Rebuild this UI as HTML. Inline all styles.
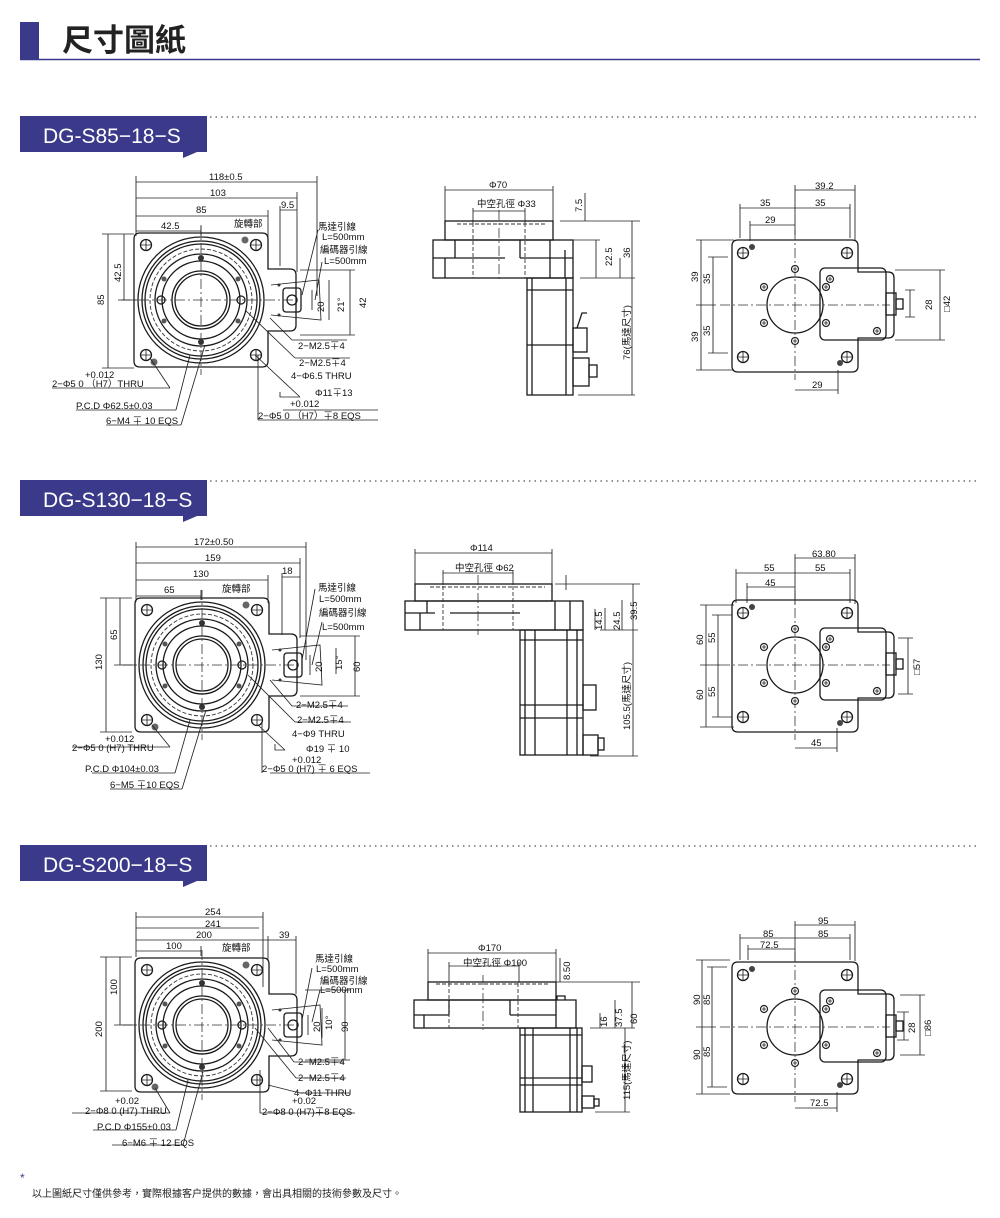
<!DOCTYPE html>
<html><head><meta charset="utf-8">
<style>
html,body{margin:0;padding:0;background:#fff;}
svg{display:block;}
.t{font-family:"Liberation Sans","Noto Sans CJK TC",sans-serif;font-size:9.5px;fill:#111;}
.s{fill:none;stroke:#1a1a1a;stroke-width:1.3;}
.d{fill:none;stroke:#222;stroke-width:0.85;}
.c{fill:none;stroke:#333;stroke-width:0.8;stroke-dasharray:10 3 2 3;}
.h{fill:none;stroke:#333;stroke-width:0.9;stroke-dasharray:4 2;}
</style></head><body>
<svg width="1000" height="1218" viewBox="0 0 1000 1218" xmlns="http://www.w3.org/2000/svg">
<defs>
<g id="hole"><circle r="5.5" class="s"/><path d="M-5.5,0h11M0,-5.5v11" class="d"/></g>
<g id="scr"><circle r="3.5" fill="#fff" stroke="#222" stroke-width="1.2"/><path d="M-2,0h4M0,-2v4" class="d"/></g>
<g id="fv">
<path class="s" d="M-61,-67 h122 q6,0 6,6 v30 h22 q6,0 6,6 v50 q0,6 -6,6 h-22 v30 q0,6 -6,6 h-122 q-6,0 -6,-6 v-122 q0,-6 6,-6z"/>
<circle r="63" class="s" stroke-width="1.8"/><circle r="59" class="s"/><circle r="56" class="s"/>
<circle r="51" class="h"/><circle r="46" class="s"/><circle r="39" class="s"/>
<circle r="29" class="s" stroke-width="1.7"/><circle r="26" class="s"/>
<path class="c" d="M-80,0h175M0,-75v150"/>
<use href="#hole" x="-55" y="-55"/><use href="#hole" x="55" y="-55"/><use href="#hole" x="-55" y="55"/><use href="#hole" x="55" y="55"/>
<circle cx="0" cy="-42" r="3" fill="#333"/><circle cx="0" cy="42" r="3" fill="#333"/>
<circle cx="-37" cy="-21" r="2.5" fill="#555"/><circle cx="37" cy="-21" r="2.5" fill="#555"/>
<circle cx="-37" cy="21" r="2.5" fill="#555"/><circle cx="37" cy="21" r="2.5" fill="#555"/>
<circle cx="-40" cy="0" r="4" class="s"/><circle cx="40" cy="0" r="4" class="s"/>
<circle cx="44" cy="-60" r="3.5" fill="#666"/><circle cx="-47" cy="62" r="3.5" fill="#666"/>
<path class="d" d="M70,-15 L118,-20 L120,20 L70,15"/>
<rect x="82" y="-12" width="18" height="24" rx="3" class="s"/><circle cx="91" cy="0" r="5" class="s"/>
<circle cx="78" cy="-15" r="1.5" fill="#333"/><circle cx="78" cy="15" r="1.5" fill="#333"/>
</g>
<g id="tv">
<path class="s" d="M-57,-65 h114 q6,0 6,6 v26 h30 q6,0 6,6 v54 q0,6 -6,6 h-30 v28 q0,6 -6,6 h-114 q-6,0 -6,-6 v-120 q0,-6 6,-6z"/>
<rect x="25" y="-37" width="66" height="72" rx="5" class="s"/>
<circle r="28" class="s"/>
<path class="c" d="M-75,0h170M0,-75v150"/>
<use href="#hole" x="-52" y="-52"/><use href="#hole" x="52" y="-52"/><use href="#hole" x="-52" y="52"/><use href="#hole" x="52" y="52"/>
<use href="#scr" x="0" y="-36"/><use href="#scr" x="0" y="36"/><use href="#scr" x="-31" y="-18"/><use href="#scr" x="-31" y="18"/><use href="#scr" x="31" y="-18"/><use href="#scr" x="31" y="18"/>
<use href="#scr" x="35" y="-26"/><use href="#scr" x="82" y="26"/>
<circle cx="-43" cy="-58" r="3" fill="#444"/><circle cx="45" cy="58" r="3" fill="#444"/>
<rect x="91" y="-12" width="10" height="22" class="s"/><rect x="101" y="-6" width="7" height="10" class="s"/>
</g>
</defs>

<rect x="20" y="22" width="19" height="37" fill="#3b3a8a"/>
<text x="62" y="51" font-family="Liberation Sans,'Noto Sans CJK TC',sans-serif" font-size="31" fill="#222" font-weight="bold">尺寸圖紙</text>
<line x1="20" y1="59.5" x2="980" y2="59.5" stroke="#3b3a8a" stroke-width="1.5"/>

<g>
<path d="M20,116 h187 v36 h-10 l-14,6 v-6 h-163z" fill="#3b3a8a"/>
<text x="43" y="143" font-family="Liberation Sans,sans-serif" font-size="21" fill="#fff">DG-S85−18−S</text>
<line x1="210" y1="117" x2="980" y2="117" stroke="#555" stroke-width="1.2" stroke-dasharray="1.5 4"/>
<path d="M20,480 h187 v36 h-10 l-14,6 v-6 h-163z" fill="#3b3a8a"/>
<text x="43" y="507" font-family="Liberation Sans,sans-serif" font-size="21" fill="#fff">DG-S130−18−S</text>
<line x1="210" y1="481" x2="980" y2="481" stroke="#555" stroke-width="1.2" stroke-dasharray="1.5 4"/>
<path d="M20,845 h187 v36 h-10 l-14,6 v-6 h-163z" fill="#3b3a8a"/>
<text x="43" y="872" font-family="Liberation Sans,sans-serif" font-size="21" fill="#fff">DG-S200−18−S</text>
<line x1="210" y1="846" x2="980" y2="846" stroke="#555" stroke-width="1.2" stroke-dasharray="1.5 4"/>
</g>

<!-- ===== Section 1 ===== -->
<use href="#fv" x="201" y="300"/>
<g class="d">
<path d="M136,182h181M136,198h161M136,216h132M136,231h65M280,210h17M136,176v60M317,176v120M297,192v80M268,210v28M280,206v60M201,226v10"/>
<path d="M108,234v134M124,234v66M102,234h32M102,368h32M118,300h20"/>
<path d="M312,290v20M329,280v40M350,270v65M300,270h55M300,335h55"/>
<path d="M292,340h55M295,358h55M283,410h95M258,420h120M52,388h118M76,410h100M106,425h75"/>
<path d="M176,410L190,355M170,388L150,358M181,425L205,345M292,340L270,318M295,358L245,310M258,420L258,355M300,397h-20v-5M300,397L255,355M318,230L302,295M322,262L315,300"/>
</g>
<g class="t">
<text x="209" y="180">118±0.5</text><text x="210" y="196">103</text><text x="196" y="213">85</text><text x="281" y="208">9.5</text><text x="161" y="229">42.5</text>
<text x="234" y="227">旋轉部</text>
<text transform="translate(104,305) rotate(-90)">85</text><text transform="translate(121,282) rotate(-90)">42.5</text>
<text x="318" y="230">馬達引線</text><text x="322" y="240">L=500mm</text><text x="320" y="253">編碼器引線</text><text x="324" y="264">L=500mm</text>
<text transform="translate(324,312) rotate(-90)">20</text><text transform="translate(344,312) rotate(-90)">21°</text><text transform="translate(366,308) rotate(-90)">42</text>
<text x="298" y="349">2−M2.5∓4</text><text x="299" y="366">2−M2.5∓4</text><text x="291" y="379">4−Φ6.5 THRU</text>
<text x="315" y="396">Φ11∓13</text><text x="290" y="407">+0.012</text><text x="258" y="419">2−Φ5   0  （H7）∓8 EQS</text>
<text x="85" y="378">+0.012</text><text x="52" y="387">2−Φ5   0 （H7）THRU</text><text x="76" y="409">P.C.D   Φ62.5±0.03</text><text x="106" y="424">6−M4 ∓ 10 EQS</text>
</g>
<g class="s">
<rect x="445" y="221" width="108" height="19"/>
<rect x="433" y="240" width="140" height="38"/>
<path d="M433,258h22v-18M455,258h50M520,258v-18M520,258h53M550,240v38M565,250v28M445,258v20"/>
<rect x="527" y="278" width="46" height="117"/>
<path d="M532,278v117M566,278v117M527,290h46M527,345h46"/>
<rect x="573" y="328" width="14" height="24"/><path d="M577,328l5,-15h5"/>
<rect x="573" y="358" width="16" height="28"/><rect x="589" y="365" width="8" height="12"/>
</g>
<path class="h" d="M457,224h88M473,223v55M525,223v55"/>
<path class="c" d="M499,210v70"/>
<g class="d"><path d="M445,190h108M445,186v35M553,186v35M473,211h52M473,208v15M525,208v15M585,193v28M560,221h80M560,240h40M596,240v38M632,221v174M580,278h55M578,395h57M620,258v20"/></g>
<g class="t">
<text x="489" y="188">Φ70</text><text x="477" y="207">中空孔徑  Φ33</text>
<text transform="translate(582,212) rotate(-90)">7.5</text><text transform="translate(612,266) rotate(-90)">22.5</text>
<text transform="translate(630,258) rotate(-90)">36</text><text transform="translate(630,360) rotate(-90)">76(馬達尺寸)</text>
</g>
<use href="#tv" x="795" y="305"/>
<g class="d"><path d="M795,190h60M795,185v50M855,185v55M740,208h110M740,204v34M850,204v34M750,225h45M750,221v20M795,390h43M838,370v24M701,240v130M713,257v96M696,240h38M708,257h20M708,353h20M696,370h38M696,305h20M910,290v27M940,270v70M895,270h50M895,340h50M905,290h10M905,317h10"/></g>
<g class="t">
<text x="815" y="189">39.2</text><text x="760" y="206">35</text><text x="815" y="206">35</text><text x="765" y="223">29</text><text x="812" y="388">29</text>
<text transform="translate(698,282) rotate(-90)">39</text><text transform="translate(698,342) rotate(-90)">39</text>
<text transform="translate(710,284) rotate(-90)">35</text><text transform="translate(710,336) rotate(-90)">35</text>
<text transform="translate(932,310) rotate(-90)">28</text><text transform="translate(950,312) rotate(-90)">□42</text>
</g>

<!-- ===== Section 2 ===== -->
<use href="#fv" x="202" y="665"/>
<g class="d">
<path d="M136,547h170M136,563h164M136,580h132M136,596h65M282,577h18M136,542v60M306,542v118M300,558v80M268,575v28M282,573v62M201,590v10"/>
<path d="M106,598v134M120,598v67M100,598h32M100,732h32M114,665h22"/>
<path d="M310,655v20M336,648v26M355,636v60M300,636h60M300,696h60"/>
<path d="M292,706h56M295,722h56M270,773h100M72,747h98M92,773h83M110,789h72"/>
<path d="M170,747L152,725M175,773L190,720M182,789L206,710M292,706L270,680M295,722L248,675M262,773L262,722M285,750h-10v-6M285,750L258,725M315,589L302,660M322,622L312,665"/>
</g>
<g class="t">
<text x="194" y="545">172±0.50</text><text x="205" y="561">159</text><text x="193" y="577">130</text><text x="282" y="574">18</text><text x="164" y="593">65</text>
<text x="222" y="592">旋轉部</text>
<text transform="translate(102,670) rotate(-90)">130</text><text transform="translate(117,640) rotate(-90)">65</text>
<text x="318" y="591">馬達引線</text><text x="319" y="602">L=500mm</text><text x="319" y="616">編碼器引線</text><text x="322" y="630">L=500mm</text>
<text transform="translate(322,672) rotate(-90)">20</text><text transform="translate(342,670) rotate(-90)">15°</text><text transform="translate(360,672) rotate(-90)">60</text>
<text x="296" y="708">2−M2.5∓4</text><text x="297" y="723">2−M2.5∓4</text><text x="292" y="737">4−Φ9 THRU</text>
<text x="306" y="752">Φ19 ∓ 10</text><text x="292" y="763">+0.012</text><text x="262" y="772">2−Φ5   0  (H7) ∓ 6 EQS</text>
<text x="105" y="742">+0.012</text><text x="72" y="751">2−Φ5    0  (H7) THRU</text><text x="85" y="772">P.C.D  Φ104±0.03</text><text x="110" y="788">6−M5 ∓10 EQS</text>
</g>
<g class="s">
<rect x="415" y="584" width="137" height="17"/>
<rect x="405" y="601" width="178" height="29"/>
<path d="M405,613h30M427,601v12M450,613h70M555,601v29M570,601v29M420,613v17"/>
<rect x="520" y="630" width="63" height="125"/>
<path d="M525,630v125M535,630v125M567,630v125M577,630v125M520,640h63M520,705h63M520,718h63"/>
<rect x="583" y="685" width="13" height="25"/><rect x="583" y="735" width="15" height="20"/><rect x="598" y="738" width="6" height="12"/>
</g>
<path class="h" d="M430,587h115M443,586v44M513,586v44"/>
<path class="c" d="M478,575v60"/>
<g class="d"><path d="M415,553h137M415,549v35M552,549v35M443,573h70M443,570v15M513,570v15M566,575v15M555,584h85M560,601h15M595,609v21M605,608v22M622,600v30M633,584v172M600,630h38M590,756h48"/></g>
<g class="t">
<text x="470" y="551">Φ114</text><text x="455" y="571">中空孔徑  Φ62</text>
<text transform="translate(602,630) rotate(-90)">14.5</text><text transform="translate(620,630) rotate(-90)">24.5</text>
<text transform="translate(637,620) rotate(-90)">39.5</text><text transform="translate(630,730) rotate(-90)">105.5(馬達尺寸)</text>
</g>
<use href="#tv" x="795" y="665"/>
<g class="d"><path d="M795,558h60M795,554v50M855,554v50M736,573h114M736,569v34M850,569v34M747,587h48M747,583v20M795,748h42M837,728v24M706,605v122M718,615v102M700,605h34M712,615h20M712,717h20M700,727h34M700,665h20M908,638v56M898,638h15M898,694h15"/></g>
<g class="t">
<text x="812" y="557">63.80</text><text x="764" y="571">55</text><text x="815" y="571">55</text><text x="765" y="586">45</text><text x="811" y="746">45</text>
<text transform="translate(703,645) rotate(-90)">60</text><text transform="translate(703,700) rotate(-90)">60</text>
<text transform="translate(715,643) rotate(-90)">55</text><text transform="translate(715,697) rotate(-90)">55</text>
<text transform="translate(920,675) rotate(-90)">□57</text>
</g>

<!-- ===== Section 3 ===== -->
<use href="#fv" x="202" y="1025"/>
<g class="d">
<path d="M136,917h127M136,928h123M136,940h132M136,951h65M268,940h28M136,912v45M263,912v75M296,936v58M268,936v25M201,946v10"/>
<path d="M106,957v134M120,957v68M100,957h32M100,1091h32M114,1025h22"/>
<path d="M308,1015v20M322,1008v30M345,990v70M305,990h45M305,1060h45"/>
<path d="M294,1062h50M296,1078h50M300,1093h50M260,1113h95M72,1113h98M93,1130h83M112,1145h72"/>
<path d="M170,1113L155,1088M176,1130L188,1080M183,1145L203,1072M294,1062L268,1028M296,1078L255,1028M260,1113L260,1070M300,1093L268,1085M312,968L302,1020M320,990L312,1022"/>
</g>
<g class="t">
<text x="205" y="915">254</text><text x="205" y="927">241</text><text x="196" y="938">200</text><text x="279" y="938">39</text><text x="166" y="949">100</text>
<text x="222" y="951">旋轉部</text>
<text transform="translate(102,1037) rotate(-90)">200</text><text transform="translate(117,995) rotate(-90)">100</text>
<text x="315" y="962">馬達引線</text><text x="316" y="972">L=500mm</text><text x="320" y="984">編碼器引線</text><text x="320" y="993">L=500mm</text>
<text transform="translate(320,1032) rotate(-90)">20</text><text transform="translate(332,1030) rotate(-90)">10°</text><text transform="translate(348,1032) rotate(-90)">90</text>
<text x="298" y="1065">2−M2.5∓4</text><text x="298" y="1081">2−M2.5∓4</text><text x="294" y="1096">4−Φ11 THRU</text>
<text x="292" y="1104">+0.02</text><text x="262" y="1115">2−Φ8   0  (H7)∓8 EQS</text>
<text x="115" y="1104">+0.02</text><text x="85" y="1114">2−Φ8   0 (H7) THRU</text><text x="97" y="1130">P.C.D  Φ155±0.03</text><text x="122" y="1146">6−M6 ∓ 12 EQS</text>
</g>
<g class="s">
<rect x="428" y="982" width="128" height="18"/>
<rect x="414" y="1000" width="142" height="28"/>
<path d="M414,1015h35M449,1000v15M510,1000v15M510,1015h46M424,1015v13M556,1000h20v28h-20M557,1000v-4h8v4"/>
<rect x="520" y="1028" width="62" height="84"/>
<path d="M525,1028v84M533,1028v84M570,1028v84M577,1028v84M520,1035h62M520,1078h62M520,1085h62"/>
<rect x="582" y="1066" width="10" height="16"/><rect x="582" y="1096" width="12" height="12"/><rect x="594" y="1099" width="5" height="7"/>
</g>
<path class="h" d="M436,984h112M449,983v45M518,983v45"/>
<path class="c" d="M483,975v55"/>
<g class="d"><path d="M428,953h128M428,949v33M556,949v33M449,966h70M449,962v20M519,962v20M560,958v24M555,982h85M560,1000h10M600,1013v15M615,1000v28M632,982v46M590,1028h45M625,1028v84M595,1112h35"/></g>
<g class="t">
<text x="478" y="951">Φ170</text><text x="463" y="966">中空孔徑  Φ100</text>
<text transform="translate(570,980) rotate(-90)">8.50</text><text transform="translate(607,1027) rotate(-90)">16</text>
<text transform="translate(622,1027) rotate(-90)">37.5</text><text transform="translate(637,1024) rotate(-90)">60</text>
<text transform="translate(630,1100) rotate(-90)">115(馬達尺寸)</text>
</g>
<use href="#tv" x="795" y="1027"/>
<g class="d"><path d="M795,925h60M795,921v40M855,921v40M740,938h110M740,934v26M850,934v26M748,949h47M748,945v15M795,1108h42M837,1092v20M702,960v134M712,967v120M696,960h34M707,967h20M707,1087h20M696,1094h34M696,1027h20M904,1012v28M920,995v60M897,1012h12M897,1040h12M900,995h25M900,1055h25"/></g>
<g class="t">
<text x="818" y="924">95</text><text x="763" y="937">85</text><text x="818" y="937">85</text><text x="760" y="948">72.5</text><text x="810" y="1106">72.5</text>
<text transform="translate(700,1005) rotate(-90)">90</text><text transform="translate(700,1060) rotate(-90)">90</text>
<text transform="translate(710,1005) rotate(-90)">85</text><text transform="translate(710,1057) rotate(-90)">85</text>
<text transform="translate(915,1033) rotate(-90)">28</text><text transform="translate(931,1036) rotate(-90)">□86</text>
</g>

<text x="20" y="1182" font-family="Liberation Sans,sans-serif" font-size="12" fill="#3b3a8a">*</text>
<text x="32" y="1197" font-family="Liberation Sans,'Noto Sans CJK TC',sans-serif" font-size="10" fill="#222">以上圖紙尺寸僅供參考，實際根據客户提供的數據，會出具相關的技術參數及尺寸。</text>
</svg>
</body></html>
